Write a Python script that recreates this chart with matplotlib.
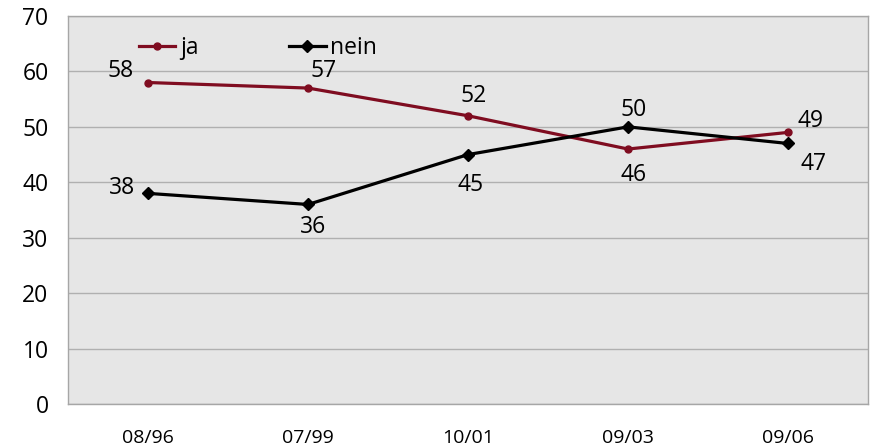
import matplotlib
matplotlib.use("Agg")
import matplotlib.pyplot as plt

categories = ["08/96", "07/99", "10/01", "09/03", "09/06"]
ja = [58, 57, 52, 46, 49]
nein = [38, 36, 45, 50, 47]
yticks = [0, 10, 20, 30, 40, 50, 60, 70]

plt.rcParams['font.family'] = ['Open Sans', 'DejaVu Sans']

fig = plt.figure(figsize=(8.72, 4.48), dpi=100)
ax = fig.add_axes([68/872, 1-404/448, 800/872, 388/448])
ax.set_facecolor('#e6e6e6')

x = list(range(len(categories)))
red = '#7f0c20'
ax.plot(x, ja, color=red, lw=2.3, marker='o', ms=5, label='ja', zorder=3)
ax.plot(x, nein, color='black', lw=2.3, marker='D', ms=6, label='nein', zorder=3)

ax.set_xlim(-0.5, len(categories) - 0.5)
ax.set_ylim(0, 70)
ax.set_yticks(yticks)
ax.set_xticks(x)
ax.set_xticklabels(categories, fontsize=14)
ax.tick_params(axis='y', labelsize=16.5, length=0, pad=14)
ax.tick_params(axis='x', length=0, pad=18)
ax.yaxis.grid(True, color='#b0b0b0', lw=1)
ax.set_axisbelow(True)
for s in ax.spines.values():
    s.set_color('#a6a6a6')
    s.set_linewidth(1)

# data labels (offsets in points)
ja_off = [(-20, 8), (11, 12), (4, 14), (4, -19), (16, 8)]
nein_off = [(-19, 4), (4, -16), (2, -22), (4, 12), (18, -15)]
for i, v in enumerate(ja):
    ax.annotate(str(v), (x[i], v), xytext=ja_off[i], textcoords='offset points',
                ha='center', va='center', fontsize=16.5)
for i, v in enumerate(nein):
    ax.annotate(str(v), (x[i], v), xytext=nein_off[i], textcoords='offset points',
                ha='center', va='center', fontsize=16.5)

leg = ax.legend(loc='upper left', bbox_to_anchor=(0.077, 0.972), ncol=2, frameon=False,
                fontsize=16.5, handlelength=1.6, handletextpad=0.2, columnspacing=3.95,
                borderaxespad=0)

fig.savefig('out.png', dpi=100)
